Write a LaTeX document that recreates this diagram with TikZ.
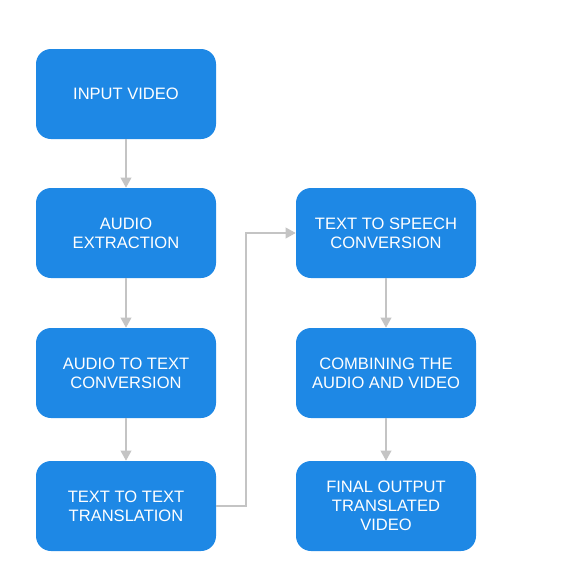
\documentclass[tikz,border=0pt]{standalone}
\usepackage{fontspec}
\setmainfont{Liberation Sans}
\usetikzlibrary{arrows.meta}
\definecolor{boxblue}{HTML}{1E88E5}
\definecolor{linegray}{HTML}{C4C4C4}
\begin{document}
\begin{tikzpicture}[x=0.75pt,y=-0.75pt,
    stepbox/.style={fill=boxblue,rounded corners=11.25pt,minimum width=135pt,
      minimum height=67.5pt,text=white,align=center,font=\fontsize{12.4}{14.25}\selectfont},
    flow/.style={draw=linegray,line width=1.1pt,-{Triangle[width=8pt,length=7.5pt]}}]
      \useasboundingbox (0,0) rectangle (572,583);
      \draw
        (126,94) node[stepbox] (input){INPUT VIDEO}
        (126,233) node[stepbox] (extract){AUDIO\\EXTRACTION}
        (126,373) node[stepbox] (stt){AUDIO TO TEXT\\CONVERSION}
        (126,506) node[stepbox] (translate){TEXT TO TEXT\\TRANSLATION}
        (386,233) node[stepbox] (tts){TEXT TO SPEECH\\CONVERSION}
        (386,373) node[stepbox] (combine){COMBINING THE\\AUDIO AND VIDEO}
        (386,506) node[stepbox] (output){FINAL OUTPUT\\TRANSLATED\\VIDEO};
      \coordinate (bend) at (246,506);
      \begin{scope}[flow]
        \draw (input) to (extract);
        \draw (extract) to (stt);
        \draw (stt) to (translate);
        \draw (translate.east) -- (bend) |- (tts.west);
        \draw (tts) to (combine);
        \draw (combine) to (output);
      \end{scope}
    \end{tikzpicture}
\end{document}
